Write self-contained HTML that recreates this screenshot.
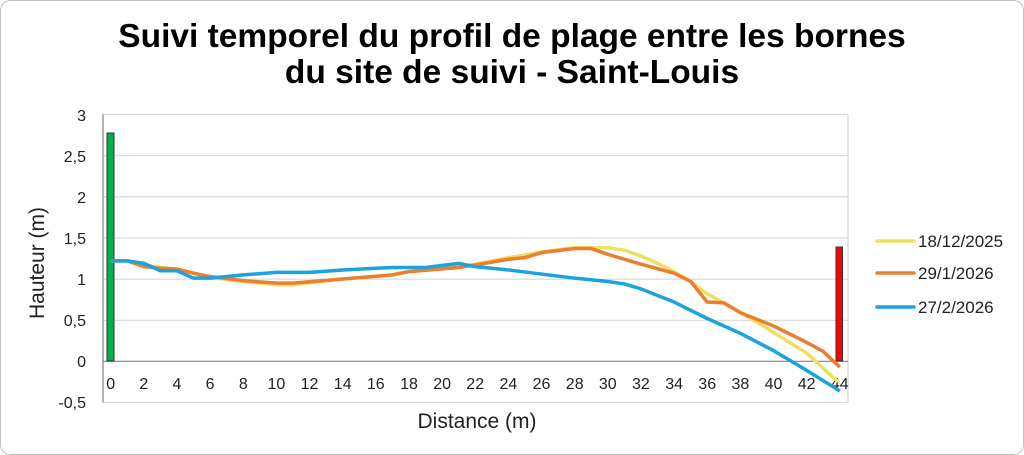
<!DOCTYPE html>
<html><head><meta charset="utf-8"><style>
html,body{margin:0;padding:0;background:#fff;}
svg{display:block;font-family:"Liberation Sans",Arial,sans-serif;}
</style></head><body>
<svg width="1024" height="455" viewBox="0 0 1024 455" xmlns="http://www.w3.org/2000/svg">
<rect x="0.5" y="0.5" width="1023" height="454" rx="10" fill="#fff" stroke="#bfbfbf"/>
<text x="512" y="47" text-anchor="middle" font-size="33.5" font-weight="bold" fill="#000">Suivi temporel du profil de plage entre les bornes</text>
<text x="512" y="83" text-anchor="middle" font-size="33.5" font-weight="bold" fill="#000">du site de suivi - Saint-Louis</text>
<g stroke="#d9d9d9" stroke-width="1.2">
<line x1="103" x2="848" y1="155.7" y2="155.7"/>
<line x1="103" x2="848" y1="196.9" y2="196.9"/>
<line x1="103" x2="848" y1="238" y2="238"/>
<line x1="103" x2="848" y1="279.2" y2="279.2"/>
<line x1="103" x2="848" y1="320.3" y2="320.3"/>
<line x1="103" x2="848" y1="402.5" y2="402.5"/>
<line x1="103" x2="848" y1="114.5" y2="114.5"/>
<line x1="848" x2="848" y1="114.5" y2="402.5"/>
</g>
<line x1="103" x2="103" y1="114.5" y2="402.5" stroke="#808080" stroke-width="1.2"/>
<line x1="103" x2="848" y1="361.3" y2="361.3" stroke="#808080" stroke-width="1.2"/>
<g font-size="16" fill="#222" text-anchor="end">
<text x="86" y="121">3</text><text x="86" y="162">2,5</text><text x="86" y="203">2</text>
<text x="86" y="244">1,5</text><text x="86" y="285">1</text><text x="86" y="326">0,5</text>
<text x="86" y="367">0</text><text x="86" y="408">-0,5</text>
</g>
<g font-size="16" fill="#222" text-anchor="middle">
<text x="110.7" y="389">0</text><text x="143.8" y="389">2</text><text x="177" y="389">4</text><text x="210.1" y="389">6</text><text x="243.3" y="389">8</text><text x="276.4" y="389">10</text><text x="309.5" y="389">12</text><text x="342.7" y="389">14</text><text x="375.8" y="389">16</text><text x="409" y="389">18</text><text x="442.1" y="389">20</text><text x="475.2" y="389">22</text><text x="508.4" y="389">24</text><text x="541.5" y="389">26</text><text x="574.7" y="389">28</text><text x="607.8" y="389">30</text><text x="640.9" y="389">32</text><text x="674.1" y="389">34</text><text x="707.2" y="389">36</text><text x="740.4" y="389">38</text><text x="773.5" y="389">40</text><text x="806.6" y="389">42</text><text x="839.8" y="389">44</text>
</g>
<text x="477" y="428" text-anchor="middle" font-size="21" fill="#222">Distance (m)</text>
<text transform="translate(44,263) rotate(-90)" text-anchor="middle" font-size="21" fill="#222">Hauteur (m)</text>
<rect x="107" y="133" width="7" height="228" fill="#00b050" stroke="#333" stroke-width="1"/>
<rect x="836" y="247" width="6.5" height="114" fill="#ff0000" stroke="#333" stroke-width="1"/>
<g transform="matrix(16.57,0,0,-82.3,110.7,361.3)" fill="none" stroke-linejoin="round">
<polyline vector-effect="non-scaling-stroke" stroke="#f0e060" stroke-width="3.5" points="0,1.22 1,1.22 2,1.17 3,1.14 4,1.12 5,1.07 6,1.02 8,0.97 10,0.93 11,0.93 14,1.0 17,1.05 18,1.09 21,1.15 22,1.18 24,1.26 25,1.29 26,1.33 28,1.38 30,1.38 31,1.35 32,1.28 33,1.19 34,1.09 35,0.97 36,0.82 37,0.71 38,0.60 40,0.35 42,0.10 43.9,-0.25"/>
<polyline vector-effect="non-scaling-stroke" stroke="#ed7d31" stroke-width="3.5" points="0,1.22 1,1.22 2,1.15 3,1.13 4,1.12 5,1.07 6,1.03 8,0.98 10,0.95 11,0.95 14,1.0 17,1.05 18,1.09 21,1.14 22,1.17 24,1.24 25,1.26 26,1.32 28,1.37 29,1.37 30,1.30 32,1.18 34,1.07 35,0.97 36,0.72 37,0.71 38,0.59 40,0.43 42,0.23 43,0.12 44,-0.07"/>
<polyline vector-effect="non-scaling-stroke" stroke="#1aa3dc" stroke-width="3.5" points="0,1.22 1,1.22 2,1.19 3,1.10 4,1.10 5,1.01 6,1.01 8,1.05 10,1.08 12,1.08 14,1.11 16,1.13 17,1.14 19,1.14 21,1.19 22,1.15 23,1.13 24,1.11 26,1.06 28,1.01 30,0.97 31,0.94 32,0.88 34,0.72 36,0.52 38,0.34 40,0.13 42,-0.11 44,-0.36"/>
</g>
<line x1="877" x2="914" y1="241" y2="241" stroke="#f0e060" stroke-width="3.5" stroke-linecap="round"/>
<line x1="877" x2="914" y1="273" y2="273" stroke="#ed7d31" stroke-width="3.5" stroke-linecap="round"/>
<line x1="877" x2="914" y1="307" y2="307" stroke="#1aa3dc" stroke-width="3.5" stroke-linecap="round"/>
<g font-size="17" fill="#222">
<text x="918" y="247">18/12/2025</text>
<text x="918" y="279">29/1/2026</text>
<text x="918" y="313">27/2/2026</text>
</g>
</svg>
</body></html>
